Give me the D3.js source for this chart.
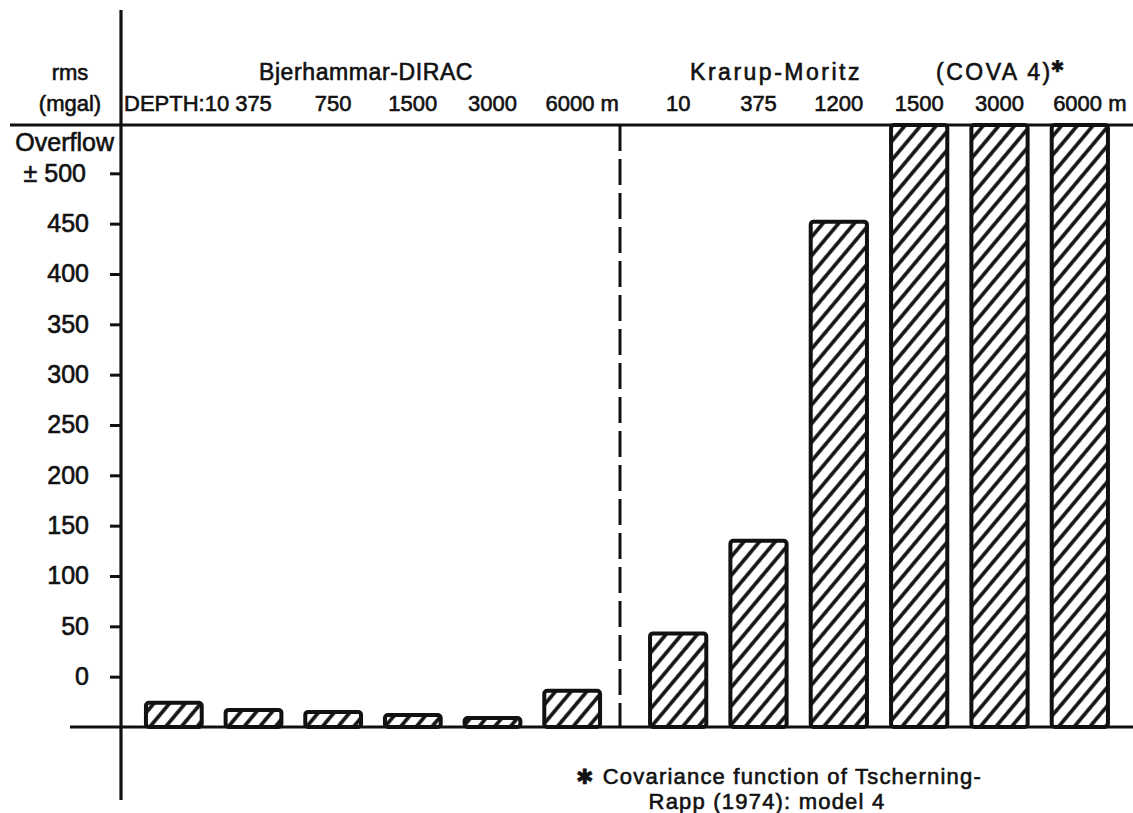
<!DOCTYPE html>
<html>
<head>
<meta charset="utf-8">
<script src="https://cdn.jsdelivr.net/npm/d3@7"></script>
<style>
  body { margin: 0; background: #fff; }
  text { font-family: "Liberation Sans", Arial, sans-serif; fill: #111; }
  .narrow { font-family: "Liberation Sans Narrow", "Liberation Sans", Arial, sans-serif; }
</style>
</head>
<body>
<svg id="chart" width="1133" height="813"></svg>
<script>
// depths (m) and rms values, in axis units
let bjerDepths = ["10", "375", "750", "1500", "3000", "6000"];
let bjerValues = [-26, -33, -35, -38, -41, -14];
let krarupDepths = ["10", "375", "1200", "1500", "3000", "6000"];
let krarupValues = [43, 135, 452, null, null, null]; // null = overflow
let yTicks = [0, 50, 100, 150, 200, 250, 300, 350, 400, 450, 500];
let overflowLevel = 548;
let baseLevel = -50;

let svg = d3.select("#chart");
let ink = "#111";
let bold = 0.6;

let y = d3.scaleLinear()
    .domain([baseLevel, overflowLevel])
    .range([727, 125]);

let xLeft = d3.scaleBand()
    .domain(d3.range(bjerDepths.length))
    .range([134, 612])
    .paddingInner(0.3)
    .paddingOuter(0.15);

let xRight = d3.scaleBand()
    .domain(d3.range(krarupDepths.length))
    .range([638, 1120])
    .paddingInner(0.3)
    .paddingOuter(0.15);

let axisX = 121;

//hatch pattern for the bars
svg.append("defs")
    .append("pattern")
    .attr("id", "hatch")
    .attr("patternUnits", "userSpaceOnUse")
    .attr("width", 12)
    .attr("height", 12)
    .attr("patternTransform", "rotate(40)")
    .append("line")
    .attr("x1", 6).attr("y1", -2)
    .attr("x2", 6).attr("y2", 14)
    .attr("stroke", ink)
    .attr("stroke-width", 3.6);

function drawBars(values, x, cls) {
    svg.append("g")
        .attr("class", cls)
        .selectAll("rect")
        .data(values)
        .enter()
        .append("rect")
        .attr("x", (d, i) => x(i))
        .attr("width", x.bandwidth())
        .attr("y", (d) => y(d === null ? overflowLevel : d))
        .attr("height", (d) => y(baseLevel) - y(d === null ? overflowLevel : d))
        .attr("rx", 3)
        .attr("fill", "url(#hatch)")
        .attr("stroke", ink)
        .attr("stroke-width", 4);
}

drawBars(bjerValues, xLeft, "bjer");
drawBars(krarupValues, xRight, "krarup");

//frame lines
svg.append("line")
    .attr("x1", 10).attr("x2", 1133)
    .attr("y1", y(overflowLevel)).attr("y2", y(overflowLevel))
    .attr("stroke", ink).attr("stroke-width", 3.2);

svg.append("line")
    .attr("x1", 70).attr("x2", 1133)
    .attr("y1", y(baseLevel)).attr("y2", y(baseLevel))
    .attr("stroke", ink).attr("stroke-width", 3.2);

svg.append("line")
    .attr("x1", axisX).attr("x2", axisX)
    .attr("y1", 10).attr("y2", 800)
    .attr("stroke", ink).attr("stroke-width", 3.2);

let divX = xLeft.range()[1] + 8;
svg.append("line")
    .attr("x1", divX).attr("x2", divX)
    .attr("y1", y(overflowLevel)).attr("y2", y(baseLevel))
    .attr("stroke", ink).attr("stroke-width", 3)
    .attr("stroke-dasharray", "26,8");

//y axis ticks
let yAxis = d3.axisLeft(y)
    .tickValues(yTicks)
    .tickSize(11)
    .tickPadding(21)
    .tickFormat((d) => d === 500 ? "\u00b1 500" : d);

let gy = svg.append("g")
    .attr("transform", "translate(" + axisX + ",0)")
    .call(yAxis);
gy.select(".domain").remove();
gy.selectAll(".tick line").attr("stroke", ink).attr("stroke-width", 3);
gy.selectAll(".tick text")
    .attr("font-size", 25)
    .attr("font-family", "Liberation Sans, Arial, sans-serif")
    .attr("fill", ink)
    .attr("stroke", ink)
    .attr("stroke-width", bold)
    .attr("dx", (d) => d === 500 ? -3 : 0);

svg.append("text")
    .attr("x", 114).attr("y", 151)
    .attr("text-anchor", "end")
    .attr("font-size", 25)
    .attr("stroke", ink).attr("stroke-width", bold)
    .text("Overflow");

//unit label
svg.append("text")
    .attr("x", 70).attr("y", 80)
    .attr("text-anchor", "middle")
    .attr("font-size", 22)
    .attr("stroke", ink).attr("stroke-width", bold)
    .text("rms");
svg.append("text")
    .attr("x", 70).attr("y", 111)
    .attr("text-anchor", "middle")
    .attr("font-size", 22)
    .attr("stroke", ink).attr("stroke-width", bold)
    .text("(mgal)");

//group headings
svg.append("text")
    .attr("x", 366).attr("y", 80)
    .attr("text-anchor", "middle")
    .attr("font-size", 23)
    .attr("letter-spacing", 0.6)
    .attr("stroke", ink).attr("stroke-width", bold)
    .text("Bjerhammar-DIRAC");

svg.append("text")
    .attr("x", 776).attr("y", 80)
    .attr("text-anchor", "middle")
    .attr("font-size", 23)
    .attr("letter-spacing", 2.5)
    .attr("stroke", ink).attr("stroke-width", bold)
    .text("Krarup-Moritz");

let cova = svg.append("text")
    .attr("x", 936).attr("y", 80)
    .attr("font-size", 23)
    .attr("letter-spacing", 2.5)
    .attr("stroke", ink).attr("stroke-width", bold);
cova.append("tspan").text("(COVA 4)");
cova.append("tspan")
    .attr("font-family", "DejaVu Sans")
    .attr("font-size", 16)
    .attr("dy", -8)
    .attr("dx", -2)
    .text("\u2731");

//depth labels
function drawDepths(depths, x, cls, first) {
    svg.append("g")
        .attr("class", cls)
        .selectAll("text")
        .data(depths)
        .enter()
        .append("text")
        .attr("class", "narrow")
        .attr("y", 111)
        .attr("font-size", 22)
        .attr("stroke", ink).attr("stroke-width", bold)
        .attr("x", (d, i) => {
            if (i === 0 && first) return axisX + 3;
            return x(i) + x.bandwidth() / 2;
        })
        .attr("text-anchor", (d, i) => (i === 0 && first) ? "start" : "middle")
        .attr("dx", (d, i) => i === depths.length - 1 ? 10 : 0)
        .text((d, i) => {
            if (i === 0 && first) return first + d;
            if (i === depths.length - 1) return d + " m";
            return d;
        });
}

drawDepths(bjerDepths, xLeft, "bjer-depth", "DEPTH:");
drawDepths(krarupDepths, xRight, "krarup-depth", null);

//footnote
let note1 = svg.append("text")
    .attr("x", 779).attr("y", 784)
    .attr("text-anchor", "middle")
    .attr("font-size", 22)
    .attr("letter-spacing", 1.2)
    .attr("stroke", ink).attr("stroke-width", bold);
note1.append("tspan")
    .attr("font-family", "DejaVu Sans")
    .attr("font-size", 21)
    .text("\u2731 ");
note1.append("tspan").text("Covariance function of Tscherning-");

svg.append("text")
    .attr("x", 767).attr("y", 809)
    .attr("text-anchor", "middle")
    .attr("font-size", 22)
    .attr("letter-spacing", 1.2)
    .attr("stroke", ink).attr("stroke-width", bold)
    .text("Rapp (1974): model 4");
</script>
</body>
</html>
